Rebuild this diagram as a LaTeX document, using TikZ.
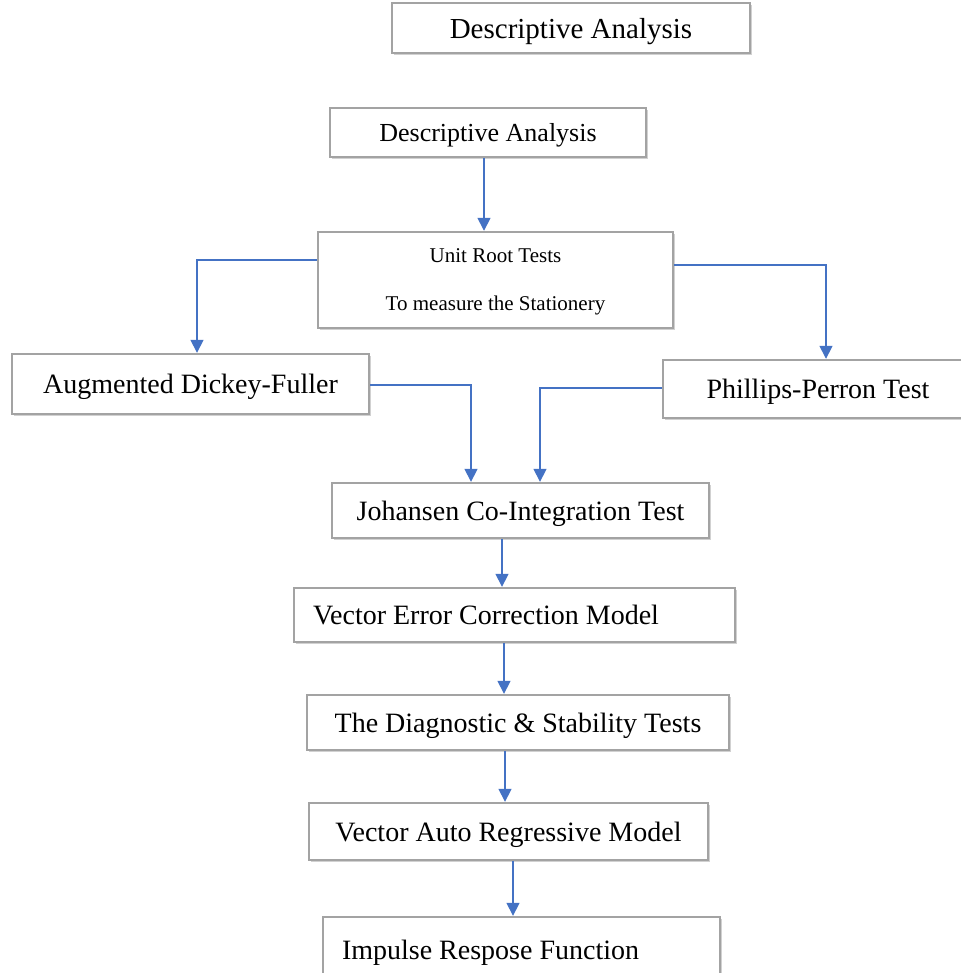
\documentclass[tikz,border=0pt]{standalone}
\usepackage{fontspec}
\setmainfont{Liberation Serif}
\usetikzlibrary{arrows.meta,shadows}
\definecolor{arrblue}{HTML}{4472C4}
\definecolor{boxgray}{HTML}{A3A3A3}
\tikzset{
  box/.style={draw=boxgray, line width=2.4pt, fill=white, inner sep=0pt, text depth=0pt,
    font=\fontsize{28}{32}\selectfont,
    drop shadow={shadow xshift=2pt, shadow yshift=-2pt, fill=black, opacity=0.18}},
  arr/.style={draw=arrblue, line width=1.6pt, -{Triangle[width=13pt,length=13pt]}}
}
\begin{document}
\begin{tikzpicture}[x=1pt,y=-1pt]
\useasboundingbox (0,0) rectangle (960,973);
\node[box, minimum width=358, minimum height=50, font=\fontsize{29}{32}\selectfont] (top) at (571,28) {Descriptive Analysis};
\node[box, minimum width=316, minimum height=49, font=\fontsize{26}{30}\selectfont] (d2) at (488,132.5) {Descriptive Analysis};
\node[box, minimum width=355, minimum height=96, align=center, font=\fontsize{21}{48}\selectfont] (u) at (495.5,280) {Unit Root Tests\\To measure the Stationery};
\node[box, minimum width=357, minimum height=60] (adf) at (190.5,384) {Augmented Dickey-Fuller};
\node[box, minimum width=310, minimum height=58] (pp) at (818,389) {Phillips-Perron Test};
\node[box, minimum width=377, minimum height=55] (jo) at (520.5,510.5) {Johansen Co-Integration Test};
\node[box, minimum height=54, inner xsep=19pt, text width=403pt, align=flush left] (ve) at (514.5,615) {Vector Error Correction Model};
\node[box, minimum width=422, minimum height=55] (di) at (518,722.5) {The Diagnostic \& Stability Tests};
\node[box, minimum width=399, minimum height=57] (va) at (508.5,831.5) {Vector Auto Regressive Model};
\node[box, minimum height=66, inner xsep=19pt, text width=359pt, align=flush left] (im) at (521.5,950) {Impulse Respose Function};
\draw[arr] (d2.south -| 484,0) -- (u.north -| 484,0);
\draw[arr] (u.west |- 0,260) -| (adf.north -| 197,0);
\draw[arr] (u.east |- 0,265) -| (pp.north -| 826,0);
\draw[arr] (adf.east |- 0,385) -| (jo.north -| 471,0);
\draw[arr] (pp.west |- 0,388) -| (jo.north -| 540,0);
\draw[arr] (jo.south -| 502,0) -- (ve.north -| 502,0);
\draw[arr] (ve.south -| 504,0) -- (di.north -| 504,0);
\draw[arr] (di.south -| 505,0) -- (va.north -| 505,0);
\draw[arr] (va.south -| 513,0) -- (im.north -| 513,0);
\end{tikzpicture}
\end{document}
